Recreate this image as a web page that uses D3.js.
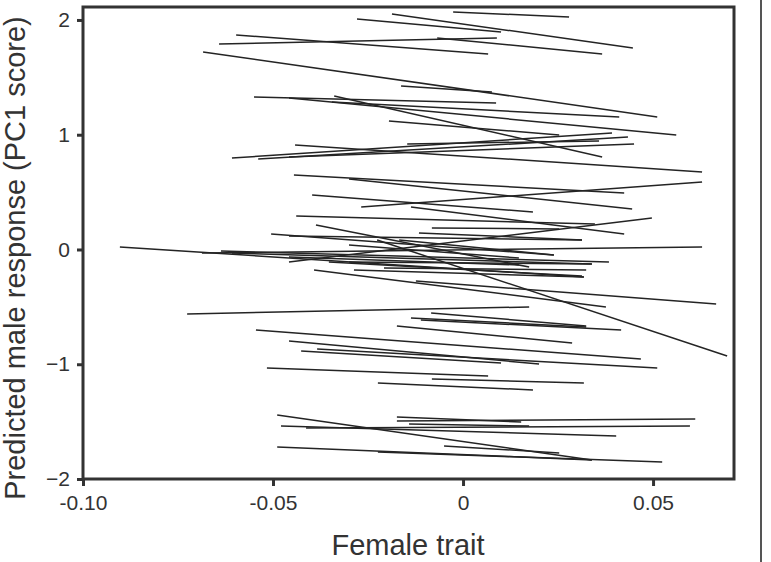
<!DOCTYPE html>
<html lang="en">
<head>
<meta charset="UTF-8">
<title>Predicted male response vs female trait</title>
<script src="https://d3js.org/d3.v7.min.js"></script>
<style>
    html, body { margin: 0; padding: 0; background: #fff; }
    svg { display: block; font-family: "Liberation Sans", Arial, sans-serif; }
</style>
</head>
<body>
<script>
    // one row per female: fitted response line, start -> end (female trait, PC1 score)
    let xStart = [-0.0026, -0.0187, -0.0279, -0.0597, -0.0642, -0.0068, -0.0684,
                  -0.0163, -0.0550, -0.0458, -0.0339, -0.0195, -0.0345,
                  -0.0608, -0.0539, -0.0458, -0.0147, -0.0442,
                  -0.0445, -0.0300, -0.0268, -0.0397, -0.0137, -0.0439, -0.0082,
                  -0.0903, -0.0687, -0.0637, -0.0608, -0.0505, -0.0458, -0.0226, -0.0458,
                  -0.0387, -0.0300, -0.0168, -0.0353, -0.0208, -0.0458, -0.0300, -0.0287, -0.0116,
                  -0.0392, -0.0124, -0.0726, -0.0084, -0.0137, -0.0111, -0.0174,
                  -0.0545, -0.0458, -0.0426, -0.0384, -0.0516, -0.0082, -0.0224,
                  -0.0489, -0.0479, -0.0413, -0.0174, -0.0142, -0.0174, -0.0489, -0.0224, -0.0050];
    let yStart = [2.070, 2.052, 2.009, 1.869, 1.791, 1.843, 1.721,
                  1.425, 1.329, 1.320, 1.338, 1.120, 1.285,
                  0.797, 0.789, 0.806, 0.919, 0.911,
                  0.649, 0.614, 0.370, 0.475, 0.370, 0.292, 0.187,
                  0.022, -0.031, -0.013, -0.031, 0.135, -0.109, 0.083, 0.118,
                  0.214, 0.039, 0.083, -0.109, -0.161, -0.065, -0.109, -0.179, 0.144,
                  -0.179, -0.275, -0.562, -0.553, -0.597, -0.614, -0.667,
                  -0.702, -0.797, -0.885, -0.867, -1.033, -1.129, -1.163,
                  -1.442, -1.538, -1.556, -1.460, -1.521, -1.495, -1.721, -1.765, -1.712];
    let xEnd = [0.0279, 0.0447, 0.0100, 0.0066, 0.0089, 0.0366, 0.0511,
                0.0076, 0.0087, 0.0561, 0.0366, 0.0253, 0.0411,
                0.0392, 0.0434, 0.0450, 0.0358, 0.0629,
                0.0424, 0.0445, 0.0629, 0.0184, 0.0424, 0.0347, 0.0253,
                0.0318, 0.0629, 0.0384, 0.0339, 0.0239, 0.0497, 0.0695, 0.0313,
                0.0174, 0.0147, 0.0239, 0.0313, 0.0324, 0.0147, 0.0339, 0.0318, 0.0313,
                0.0376, 0.0666, 0.0174, 0.0324, 0.0324, 0.0416, 0.0287,
                0.0468, 0.0200, 0.0100, 0.0511, 0.0066, 0.0318, 0.0184,
                0.0339, 0.0403, 0.0597, 0.0153, 0.0174, 0.0611, 0.0339, 0.0524, 0.0253];
    let yEnd = [2.026, 1.756, 1.896, 1.704, 1.843, 1.704, 1.155,
                1.373, 1.277, 0.998, 0.806, 0.998, 1.155,
                1.015, 0.980, 0.919, 0.946, 0.675,
                0.492, 0.353, 0.588, 0.327, 0.135, 0.222, 0.179,
                -0.240, 0.022, -0.109, -0.126, -0.048, 0.275, -0.928, 0.083,
                -0.153, -0.074, -0.048, -0.231, -0.179, -0.135, -0.126, -0.240, 0.083,
                -0.501, -0.475, -0.501, -0.667, -0.675, -0.702, -0.815,
                -0.954, -0.998, -0.989, -1.033, -1.102, -1.163, -1.224,
                -1.834, -1.625, -1.538, -1.503, -1.538, -1.477, -1.834, -1.852, -1.773];

    let xTicks = [-0.10, -0.05, 0, 0.05];
    let xTickLabels = ["-0.10", "-0.05", "0", "0.05"];
    let yTicks = [-2, -1, 0, 1, 2];

    let width = 771, height = 562;
    let plot = { left: 83, right: 734, top: 7, bottom: 479 };

    let svg = d3.select("body").append("svg")
                .attr("width", width)
                .attr("height", height);

    let xScale = d3.scaleLinear()
                   .domain([-0.10, 0.0713])
                   .range([plot.left, plot.right]);
    let yScale = d3.scaleLinear()
                   .domain([-2, 2.113])
                   .range([plot.bottom, plot.top]);

    /* segments */
    svg.append("g")
       .selectAll("line")
       .data(xStart)
       .enter()
       .append("line")
       .attr("x1", (d, i) => xScale(xStart[i]))
       .attr("y1", (d, i) => yScale(yStart[i]))
       .attr("x2", (d, i) => xScale(xEnd[i]))
       .attr("y2", (d, i) => yScale(yEnd[i]))
       .attr("stroke", "#242424")
       .attr("stroke-width", 1.5);

    /* axes */
    let xAxis = d3.axisBottom(xScale)
                  .tickValues(xTicks)
                  .tickFormat((d, i) => xTickLabels[i])
                  .tickSize(7)
                  .tickPadding(9);
    let yAxis = d3.axisLeft(yScale)
                  .tickValues(yTicks)
                  .tickFormat(d3.format("d"))
                  .tickSize(6)
                  .tickPadding(7);

    let gx = svg.append("g")
                .attr("transform", `translate(0, ${plot.bottom})`)
                .call(xAxis);
    let gy = svg.append("g")
                .attr("transform", `translate(${plot.left}, 0)`)
                .call(yAxis);

    [gx, gy].forEach(g => {
        g.select(".domain").remove();
        g.selectAll(".tick line").attr("stroke", "#333").attr("stroke-width", 3);
        g.selectAll(".tick text")
         .attr("fill", "#333")
         .style("font-size", "21px");
    });

    /* frame */
    svg.append("rect")
       .attr("x", plot.left)
       .attr("y", plot.top)
       .attr("width", plot.right - plot.left)
       .attr("height", plot.bottom - plot.top)
       .attr("fill", "none")
       .attr("stroke", "#333")
       .attr("stroke-width", 3);

    // page edge line at the right of the scan
    svg.append("line")
       .attr("x1", 761).attr("x2", 761)
       .attr("y1", 0).attr("y2", height)
       .attr("stroke", "#555")
       .attr("stroke-width", 2);

    /* axis titles */
    svg.append("text")
       .attr("x", 408)
       .attr("y", 555)
       .attr("text-anchor", "middle")
       .attr("fill", "#333")
       .style("font-size", "29px")
       .text("Female trait");

    svg.append("text")
       .attr("transform", "translate(25, 258) rotate(-90)")
       .attr("text-anchor", "middle")
       .attr("fill", "#333")
       .style("font-size", "29px")
       .text("Predicted male response (PC1 score)");
</script>
</body>
</html>
